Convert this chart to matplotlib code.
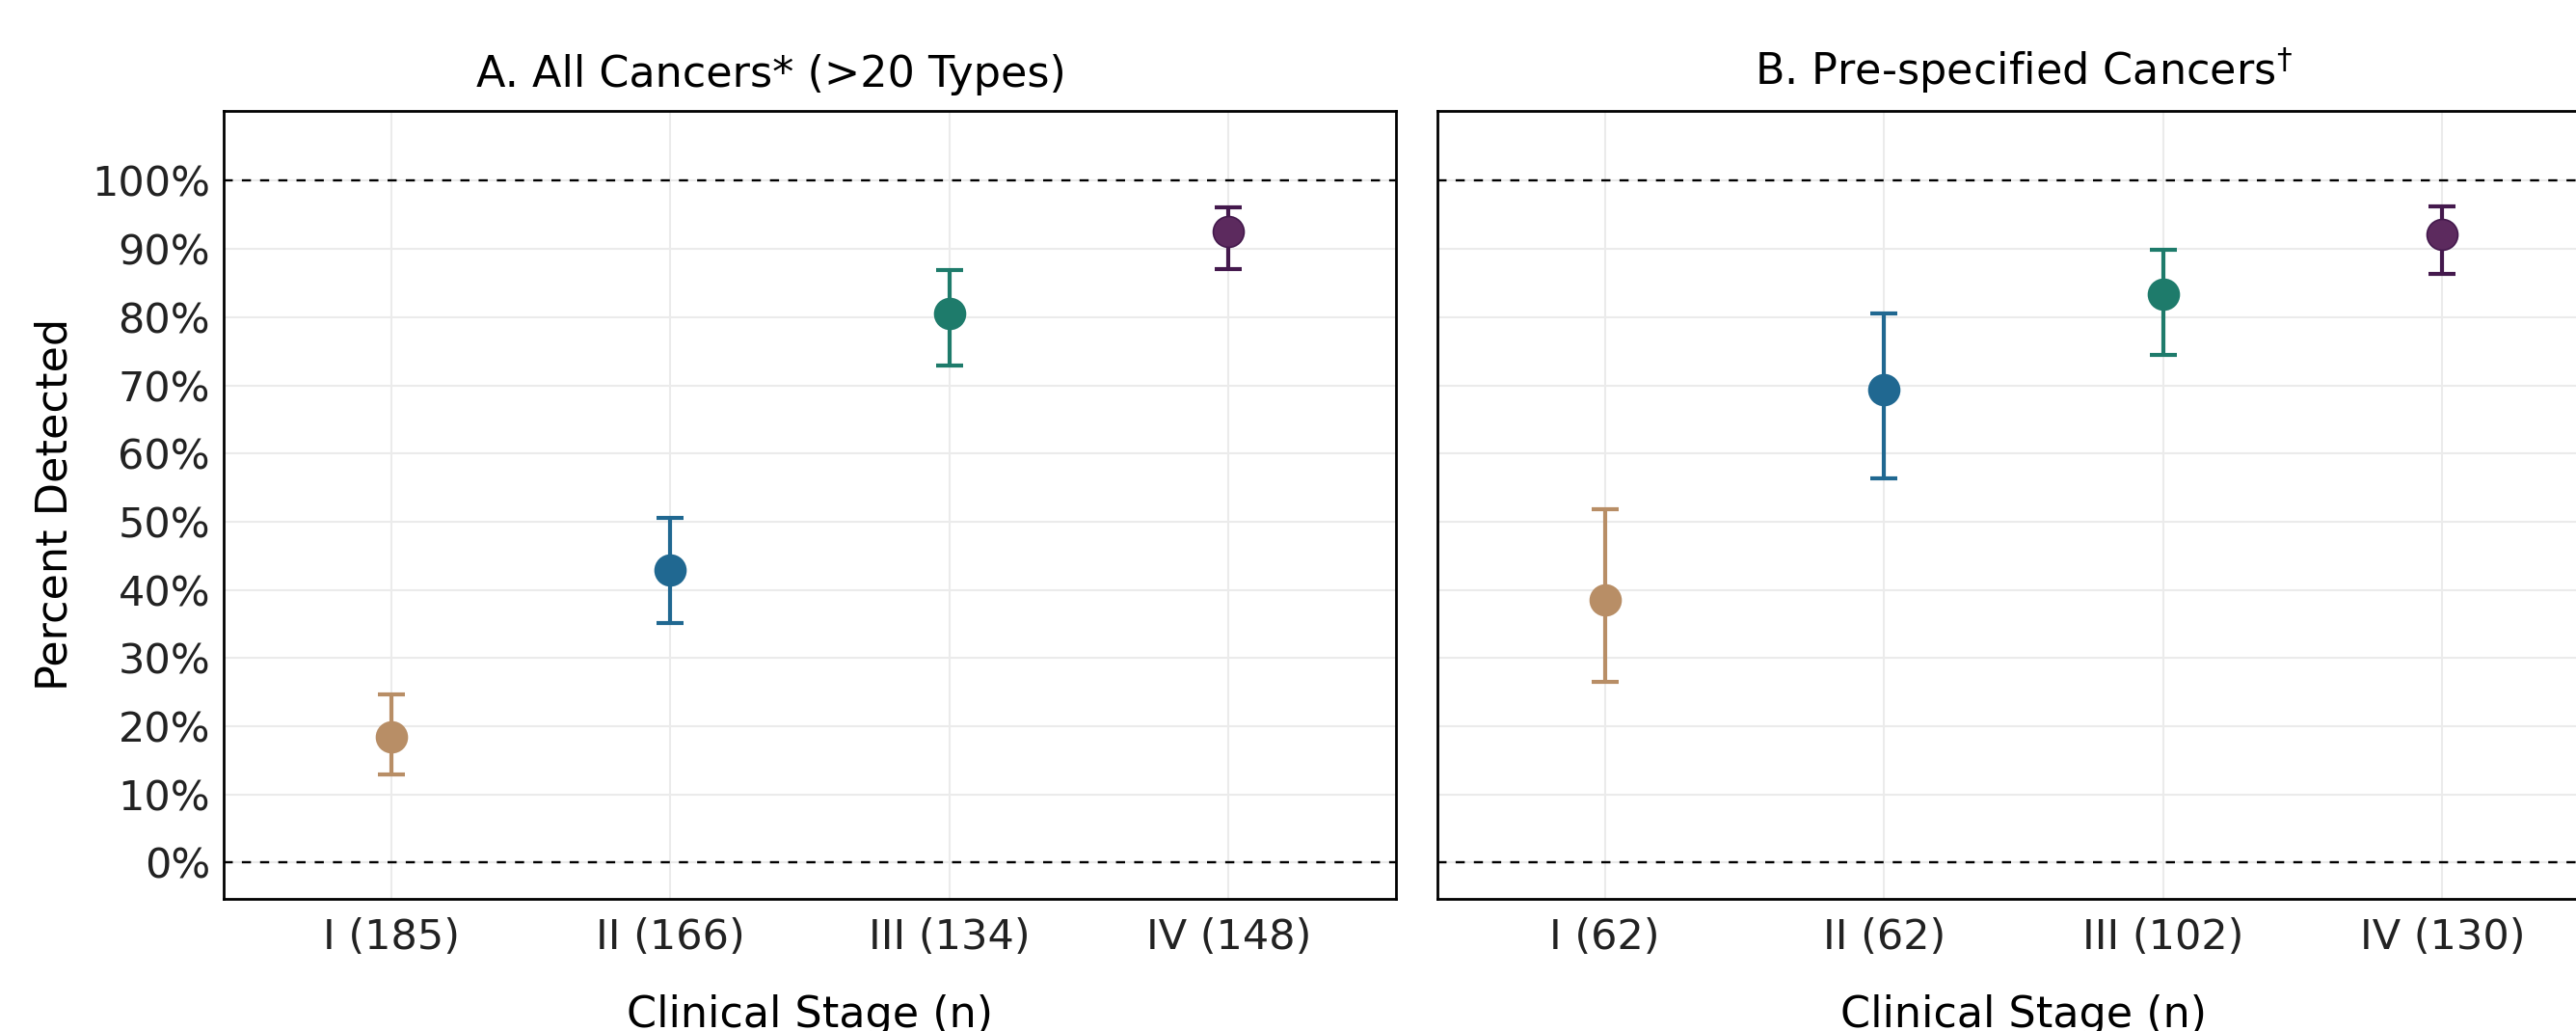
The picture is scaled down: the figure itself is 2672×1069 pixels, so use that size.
import matplotlib
matplotlib.use("Agg")
import matplotlib.pyplot as plt
from matplotlib.ticker import FuncFormatter

# ---- data ----
stages = ["I", "II", "III", "IV"]
n_all = [185, 166, 134, 148]
n_pre = [62, 62, 102, 130]

all_est = [18.4, 42.9, 80.6, 92.5]
all_lo = [13.0, 35.1, 72.9, 87.0]
all_hi = [24.7, 50.6, 86.9, 96.1]

pre_est = [38.6, 69.4, 83.4, 92.2]
pre_lo = [26.5, 56.3, 74.5, 86.3]
pre_hi = [51.9, 80.5, 89.9, 96.2]

titles = ["A. All Cancers* (>20 Types)", r"B. Pre-specified Cancers$^{\dagger}$"]

face_colors = ["#B88E66", "#206891", "#1E7B6B", "#5C2A5E"]
bar_colors = ["#B88E66", "#206891", "#1E7B6B", "#44194D"]

plt.rcParams['font.family'] = ['DejaVu Sans']
plt.rcParams['mathtext.fontset'] = 'dejavusans'

W, H = 2672, 1069
fig = plt.figure(figsize=(W / 100, H / 100), dpi=100)

ax_w = 1216 / W
ax_h = (931.6 - 115) / H
ax_b = (H - 931.6) / H
axA = fig.add_axes([232 / W, ax_b, ax_w, ax_h])
axB = fig.add_axes([1491 / W, ax_b, ax_w, ax_h])

panels = [
    (axA, all_est, all_lo, all_hi, n_all, titles[0], 0.467),
    (axB, pre_est, pre_lo, pre_hi, n_pre, titles[1], 0.5),
]

for ax, est, lo, hi, ns, title, tx in panels:
    xs = list(range(1, len(stages) + 1))
    ax.set_xlim(0.4, 4.6)
    ax.set_ylim(-5.25, 110.25)
    ax.set_yticks(range(0, 101, 10))
    ax.set_xticks(xs)
    ax.set_xticklabels([f"{s} ({n})" for s, n in zip(stages, ns)])
    ax.yaxis.set_major_formatter(FuncFormatter(lambda v, p: f"{int(round(v))}%"))
    ax.grid(True, color="#EBEBEB", linewidth=1.5, zorder=0)
    ax.set_axisbelow(True)
    ax.axhline(0, color="black", linewidth=1.7, linestyle=(0, (4, 4)), zorder=1)
    ax.axhline(100, color="black", linewidth=1.7, linestyle=(0, (4, 4)), zorder=1)
    for i, x in enumerate(xs):
        ax.errorbar([x], [est[i]], yerr=[[est[i] - lo[i]], [hi[i] - est[i]]],
                    fmt="none", ecolor=bar_colors[i], elinewidth=3.0,
                    capsize=10.3, capthick=3.0, zorder=3)
        ax.plot([x], [est[i]], marker="o", markersize=23,
                markerfacecolor=face_colors[i], markeredgecolor=bar_colors[i],
                markeredgewidth=1.2, linestyle="none", zorder=4)
    for sp in ax.spines.values():
        sp.set_linewidth(2.0)
        sp.set_color("black")
    ax.tick_params(axis="both", length=0, labelsize=31, labelcolor="#222222")
    ax.tick_params(axis="x", pad=14)
    ax.tick_params(axis="y", pad=10)
    ax.set_xlabel("Clinical Stage (n)", fontsize=32, labelpad=27, color="black")
    ax.text(tx, 1.0 + 16 / (ax_h * H), title, transform=ax.transAxes,
            ha="center", va="bottom", fontsize=32, color="black")

axA.set_ylabel("Percent Detected", fontsize=32, labelpad=12, color="black")
axB.tick_params(axis="y", labelleft=False)

fig.savefig("out.png", dpi=100, facecolor="white")
